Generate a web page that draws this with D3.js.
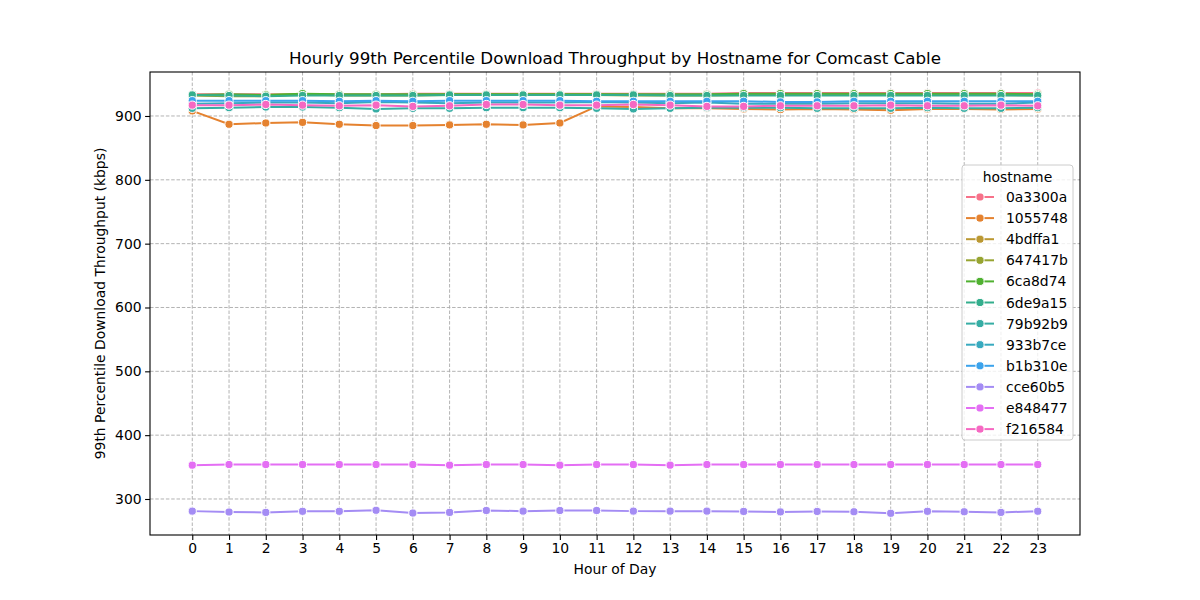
<!DOCTYPE html>
<html><head><meta charset="utf-8">
<script src="https://cdn.jsdelivr.net/npm/d3@7"></script>
<style>body{margin:0;background:#fff;} text{font-family:"DejaVu Sans",sans-serif;fill:#000;}</style>
</head><body><svg id="c" width="1200" height="600"></svg>
<script>
const hours = d3.range(0, 24);
const hostnames = ["0a3300a","1055748","4bdffa1","647417b","6ca8d74","6de9a15","79b92b9","933b7ce","b1b310e","cce60b5","e848477","f216584"];
const colors = ["#f77189","#e5822f","#bb9832","#97a431","#50b131","#34ae8d","#36ada4","#38aabf","#3ba3ec","#a48cf4","#e46ef4","#f668c2"];
const v0a3300a = [934,934,934,933,934,934,935,935,935,935,935,935,935,935,935,936,936,936,936,936,936,936,936,936];
const v1055748 = [908,887,889,890,887,885,885,886,887,886,889,915,914,912,912,911,910,911,910,909,911,911,910,911];
const v4bdffa1 = [933,932,933,935,933,933,933,934,934,934,934,934,933,933,933,934,934,934,934,934,934,934,934,934];
const v647417b = [932,931,931,934,932,932,932,933,933,933,933,933,932,932,932,933,933,933,933,933,933,933,933,932];
const v6ca8d74 = [933,934,933,935,934,934,934,934,934,934,934,934,934,934,934,935,935,935,935,935,935,935,935,934];
const v6de9a15 = [933,932,931,932,932,932,932,933,933,933,933,933,933,932,932,932,932,932,932,932,932,932,932,932];
const v79b92b9 = [912,913,914,914,913,911,912,912,913,913,913,912,911,912,913,913,913,912,912,912,913,912,912,913];
const v933b7ce = [919,920,921,921,920,922,921,920,921,921,921,922,921,920,921,919,919,919,920,920,920,919,919,921];
const vb1b310e = [924,924,924,924,923,924,923,924,924,924,924,923,923,923,923,923,922,922,923,923,923,923,923,923];
const vcce60b5 = [281,279.6,279,280.7,280.7,282.3,278,279,282,281,282,282,281,281,281,280.5,279.8,280.5,280,277.6,280.7,280,279,280.8];
const ve848477 = [353,354,354,354,354,354,354,353,354,354,353,354,354,353,354,354,354,354,354,354,354,354,354,354];
const vf216584 = [917,917,918,917,916,917,915,916,918,918,917,917,918,917,915,915,916,916,916,917,916,916,917,916];
const seriesValues = [v0a3300a,v1055748,v4bdffa1,v647417b,v6ca8d74,v6de9a15,v79b92b9,v933b7ce,vb1b310e,vcce60b5,ve848477,vf216584];
const yTicks = [300,400,500,600,700,800,900];

const L=150,R=1080,T=72,B=535;
const svg=d3.select("#c");
const x=d3.scaleLinear().domain([-1.15,24.15]).range([L,R]);
const y=d3.scaleLinear().domain([243.6,968.9]).range([B,T]);

// grid
const g=svg.append("g");
g.selectAll(".gx").data(hours).join("line").attr("x1",d=>x(d)).attr("x2",d=>x(d)).attr("y1",T).attr("y2",B)
 .attr("stroke","#aaaaaa").attr("stroke-width",0.9).attr("stroke-dasharray","3.5,1.8");
g.selectAll(".gy").data(yTicks).join("line").attr("y1",d=>y(d)).attr("y2",d=>y(d)).attr("x1",L).attr("x2",R)
 .attr("stroke","#aaaaaa").attr("stroke-width",0.9).attr("stroke-dasharray","3.5,1.8");

// series
const line=d3.line().x((d,i)=>x(hours[i])).y(d=>y(d));
seriesValues.forEach((vals,k)=>{
  const sg=svg.append("g");
  sg.append("path").attr("d",line(vals)).attr("fill","none").attr("stroke",colors[k]).attr("stroke-width",2);
  sg.selectAll("circle").data(vals).join("circle").attr("cx",(d,i)=>x(hours[i])).attr("cy",d=>y(d)).attr("r",4.1)
    .attr("fill",colors[k]).attr("stroke","#fff").attr("stroke-width",1);
});

// axes
const xa=svg.append("g").attr("transform",`translate(0,${B})`).call(d3.axisBottom(x).tickValues(hours).tickFormat(d3.format("d")).tickSize(4.9).tickPadding(3.5));
const ya=svg.append("g").attr("transform",`translate(${L},0)`).call(d3.axisLeft(y).tickValues(yTicks).tickSize(4.9).tickPadding(3.5));
[xa,ya].forEach(a=>{a.select(".domain").remove();a.selectAll("text").attr("font-size","13.9px").attr("font-family","DejaVu Sans");a.selectAll("line").attr("stroke","#000").attr("stroke-width",1.1);});
svg.append("rect").attr("x",L).attr("y",T).attr("width",R-L).attr("height",B-T).attr("fill","none").attr("stroke","#000").attr("stroke-width",1.1);

// labels
svg.append("text").attr("x",(L+R)/2).attr("y",64).attr("text-anchor","middle").attr("font-size","16.7px").text("Hourly 99th Percentile Download Throughput by Hostname for Comcast Cable");
svg.append("text").attr("x",(L+R)/2).attr("y",574).attr("text-anchor","middle").attr("font-size","13.9px").text("Hour of Day");
svg.append("text").attr("transform",`translate(105,${(T+B)/2}) rotate(-90)`).attr("text-anchor","middle").attr("font-size","13.9px").text("99th Percentile Download Throughput (kbps)");

// legend
const lg=svg.append("g");
lg.append("rect").attr("x",962).attr("y",165).attr("width",111).attr("height",275).attr("rx",3).attr("fill","#fff").attr("fill-opacity",0.8).attr("stroke","#cccccc");
lg.append("text").attr("x",1017.5).attr("y",182).attr("text-anchor","middle").attr("font-size","13.9px").text("hostname");
hostnames.forEach((h,k)=>{
  const yy=197+k*21.1;
  lg.append("line").attr("x1",966).attr("x2",994).attr("y1",yy).attr("y2",yy).attr("stroke",colors[k]).attr("stroke-width",2);
  lg.append("circle").attr("cx",980).attr("cy",yy).attr("r",4.1).attr("fill",colors[k]).attr("stroke","#fff").attr("stroke-width",1);
  lg.append("text").attr("x",1006).attr("y",yy+5).attr("font-size","13.9px").text(h);
});
</script></body></html>
